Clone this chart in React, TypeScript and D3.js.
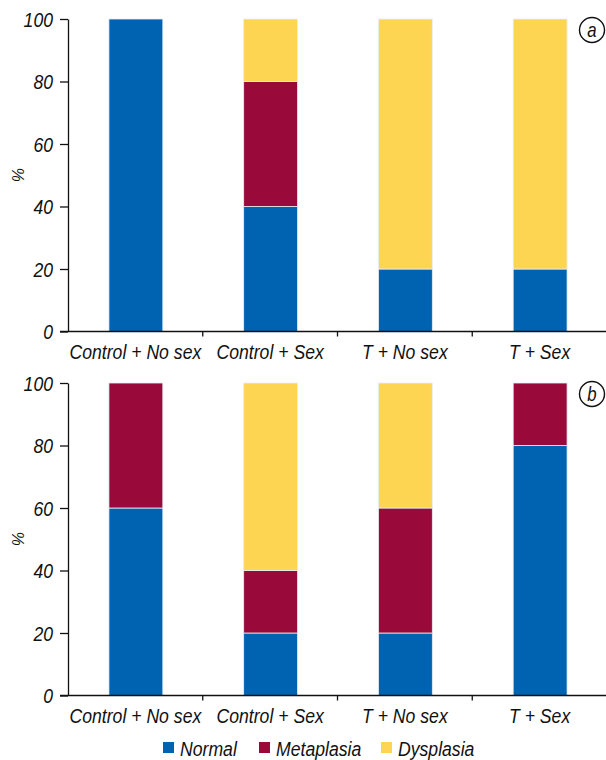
import React, { useEffect, useRef } from 'react';
import * as d3 from 'd3';

const categories = ['Control + No sex', 'Control + Sex', 'T + No sex', 'T + Sex'];
const seriesNames = ['Normal', 'Metaplasia', 'Dysplasia'];
const seriesColors = ['#0063b1', '#990a3b', '#fdd553'];
const yTicks = [0, 20, 40, 60, 80, 100];

// panel a
const normalA = [100, 40, 20, 20];
const metaplasiaA = [0, 40, 0, 0];
const dysplasiaA = [0, 20, 80, 80];

// panel b
const normalB = [60, 20, 20, 80];
const metaplasiaB = [40, 20, 40, 20];
const dysplasiaB = [0, 60, 40, 0];

const panels = [
  { label: 'a', normal: normalA, metaplasia: metaplasiaA, dysplasia: dysplasiaA, top: 19, bottom: 331.5 },
  { label: 'b', normal: normalB, metaplasia: metaplasiaB, dysplasia: dysplasiaB, top: 383, bottom: 695.5 },
];

const FONT = '"Liberation Sans", Arial, sans-serif';
const SQUEEZE = 0.84; // condensed look

const App: React.FC = () => {
  const svgRef = useRef<SVGSVGElement>(null);

  useEffect(() => {
    const svg = d3.select(svgRef.current);
    svg.selectAll('*').remove();

    const width = 606;
    const left = 68;

    // condensed italic text helper
    const label = (parent: any, tx: number, ty: number, str: string, anchor: string, size = 21) => {
      parent.append('g')
        .attr('transform', `translate(${tx},${ty}) scale(${SQUEEZE},1)`)
        .append('text')
        .attr('text-anchor', anchor)
        .attr('font-family', FONT)
        .attr('font-style', 'italic')
        .attr('font-size', size)
        .attr('fill', '#111')
        .text(str);
    };

    const x = d3.scaleBand<string>()
      .domain(categories)
      .range([left, 607])
      .padding(0);
    const barW = x.bandwidth() * 0.4;

    panels.forEach(p => {
      const rows = categories.map((c, i) => ({
        cat: c,
        Normal: p.normal[i],
        Metaplasia: p.metaplasia[i],
        Dysplasia: p.dysplasia[i],
      }));
      const stacked = d3.stack<any>().keys(seriesNames)(rows);

      const y = d3.scaleLinear().domain([0, 100]).range([p.bottom, p.top]);
      const g = svg.append('g');

      stacked.forEach((layer, li) => {
        g.selectAll(null)
          .data(layer.filter(d => d[1] - d[0] > 0))
          .enter()
          .append('rect')
          .attr('x', d => (x(d.data.cat) as number) + (x.bandwidth() - barW) / 2 + 0.5)
          .attr('y', d => y(d[1]))
          .attr('width', barW)
          .attr('height', d => y(d[0]) - y(d[1]))
          .attr('fill', seriesColors[li])
          .attr('stroke', '#e8eef6')
          .attr('stroke-width', 0.8);
      });

      // y axis
      const yAxis = g.append('g')
        .attr('transform', `translate(${left},0)`)
        .call(d3.axisLeft(y).tickValues(yTicks).tickSize(8).tickFormat(() => '').tickSizeOuter(0));
      yAxis.select('.domain').attr('stroke', '#111').attr('stroke-width', 1.3);
      yAxis.selectAll('.tick line').attr('stroke', '#111').attr('stroke-width', 1.3);
      yTicks.forEach(t => label(g, 53, y(t) + 7.5, String(t), 'end'));

      // x axis
      g.append('line')
        .attr('x1', left - 8)
        .attr('x2', width)
        .attr('y1', p.bottom)
        .attr('y2', p.bottom)
        .attr('stroke', '#111')
        .attr('stroke-width', 1.3);
      categories.slice(1).forEach(c => {
        g.append('line')
          .attr('x1', x(c) as number)
          .attr('x2', x(c) as number)
          .attr('y1', p.bottom)
          .attr('y2', p.bottom + 5)
          .attr('stroke', '#111')
          .attr('stroke-width', 1.3);
      });
      categories.forEach(c => {
        label(g, (x(c) as number) + x.bandwidth() / 2, p.bottom + 27.5, c, 'middle');
      });

      // y label
      g.append('text')
        .attr('transform', `translate(24,${(p.top + p.bottom) / 2}) rotate(-90)`)
        .attr('text-anchor', 'middle')
        .attr('font-family', FONT)
        .attr('font-style', 'italic')
        .attr('font-size', 16)
        .attr('fill', '#111')
        .text('%');

      // panel label
      g.append('circle')
        .attr('cx', 592)
        .attr('cy', p.top + 11)
        .attr('r', 12.5)
        .attr('fill', 'white')
        .attr('stroke', '#111')
        .attr('stroke-width', 1.4);
      label(g, 592, p.top + 18, p.label, 'middle', 20);
    });

    // legend
    const legendX = [163, 259, 381];
    const legend = svg.append('g');
    seriesNames.forEach((s, i) => {
      legend.append('rect')
        .attr('x', legendX[i])
        .attr('y', 742)
        .attr('width', 11)
        .attr('height', 11)
        .attr('fill', seriesColors[i]);
      label(legend, legendX[i] + 17, 755.5, s, 'start');
    });
  }, []);

  return (
    <svg
      ref={svgRef}
      width={606}
      height={760}
      style={{ position: 'absolute', left: 0, top: 0, background: 'white' }}
    />
  );
};

export default App;
